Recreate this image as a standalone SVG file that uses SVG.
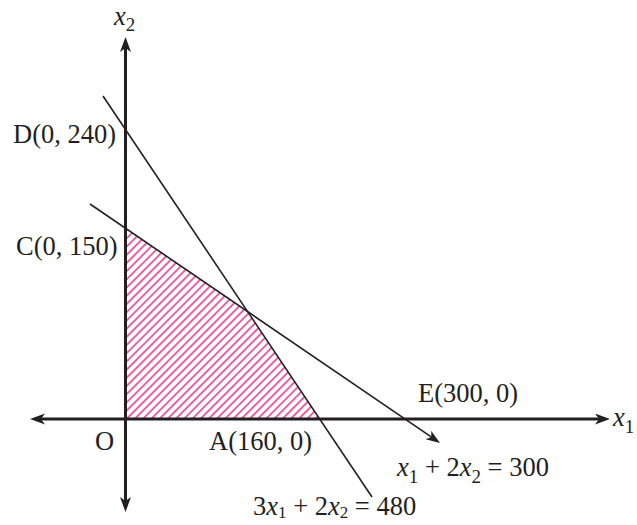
<svg xmlns="http://www.w3.org/2000/svg" width="637" height="525" viewBox="0 0 637 525">
<style>
.t{font-family:"Liberation Serif","Times New Roman",serif;font-size:26.5px;fill:#231f20}
.i{font-style:italic}
.s{font-size:19px}
.ax{stroke:#231f20;stroke-width:3;fill:none}
.ln{stroke:#231f20;stroke-width:1.6;fill:none}
</style>
<defs>
<pattern id="hatch" patternUnits="userSpaceOnUse" width="5.8" height="12" patternTransform="rotate(45)">
<line x1="2.9" y1="0" x2="2.9" y2="12" stroke="#e0197d" stroke-width="1.35"/>
</pattern>
<marker id="axArrow" markerUnits="userSpaceOnUse" markerWidth="16" markerHeight="12" refX="5" refY="5.5" orient="auto-start-reverse">
<path d="M0,0 L15,5.5 L0,11 L4,5.5 z" fill="#231f20"/>
</marker>
<marker id="lnArrow" markerUnits="userSpaceOnUse" markerWidth="15" markerHeight="11" refX="10" refY="5" orient="auto">
<path d="M0,0 L14,5 L0,10 L3.5,5 z" fill="#231f20"/>
</marker>
</defs>
<rect width="637" height="525" fill="#ffffff"/>
<g id="region">
<polygon points="125,419 125,228 247.6,311.6 319.6,419" fill="url(#hatch)"/>
</g>
<g id="connectors">
<line class="ln" x1="103" y1="96" x2="372" y2="497"/>
<line class="ln" x1="90" y1="204" x2="436.7" y2="440.7" marker-end="url(#lnArrow)"/>
<line id="x1-axis" class="ax" x1="40" y1="419" x2="600" y2="419" marker-start="url(#axArrow)" marker-end="url(#axArrow)"/>
<line id="x2-axis" class="ax" x1="125.5" y1="502" x2="125.5" y2="47" marker-start="url(#axArrow)" marker-end="url(#axArrow)"/>
</g>
<g id="labels">
<text class="t i" x="114" y="25">x<tspan class="s" dy="6" style="font-style:normal">2</tspan></text>
<text class="t i" x="613" y="426">x<tspan class="s" dy="7" style="font-style:normal">1</tspan></text>
<text class="t" x="13" y="143">D(0, 240)</text>
<text class="t" x="16" y="255">C(0, 150)</text>
<text class="t" x="95" y="450">O</text>
<text class="t" x="209" y="450">A(160, 0)</text>
<text class="t" x="418" y="402">E(300, 0)</text>
<text class="t" x="397" y="476"><tspan class="i">x</tspan><tspan class="s" dy="7">1</tspan><tspan dy="-7"> + 2</tspan><tspan class="i">x</tspan><tspan class="s" dy="7">2</tspan><tspan dy="-7"> = 300</tspan></text>
<text class="t" x="253" y="515">3<tspan class="i">x</tspan><tspan class="s" dy="3" style="font-size:17px">1</tspan><tspan dy="-3"> + 2</tspan><tspan class="i">x</tspan><tspan class="s" dy="3" style="font-size:17px">2</tspan><tspan dy="-3"> = 480</tspan></text>
</g>
</svg>
